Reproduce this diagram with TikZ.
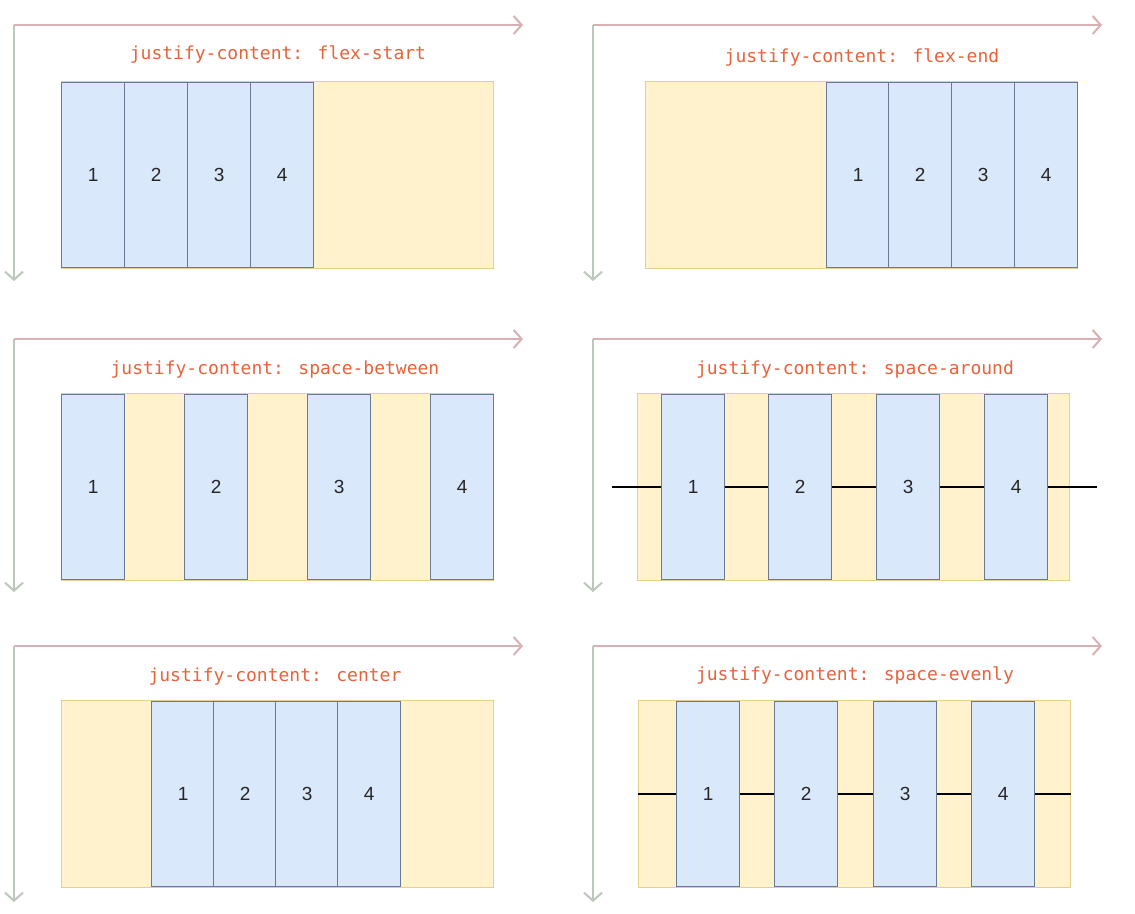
\documentclass[tikz,border=0pt]{standalone}
\usepackage{fontspec}
\setmainfont{Liberation Sans}
\newfontfamily\codefont{DejaVu Sans Mono}
\usetikzlibrary{arrows.meta}
\definecolor{itemfill}{HTML}{DAE8FC}
\definecolor{itemdraw}{HTML}{687A94}
\definecolor{contfill}{HTML}{FFF2CC}
\definecolor{contdraw}{HTML}{E3D08E}
\definecolor{titlecol}{HTML}{E8623A}
\definecolor{haxcol}{HTML}{D9B0B4}
\definecolor{vaxcol}{HTML}{BCC8BC}
\begin{document}
\begin{tikzpicture}[x=1pt,y=-1pt,
  cont/.style={draw=contdraw, fill=contfill, line width=1.2pt, minimum width=432pt, minimum height=187pt, anchor=north west, inner sep=0pt},
  itembox/.style={draw=itemdraw, fill=itemfill, line width=1.3pt, minimum width=63pt, minimum height=185pt, anchor=north west, inner sep=0pt, font=\fontsize{19}{22}\selectfont, text=black!85},
  title/.style={text=titlecol, font=\codefont\fontsize{18}{22}\selectfont, inner sep=0pt},
  haxis/.style={draw=haxcol, line width=2pt, -{Straight Barb[length=8pt,width=18pt,line width=2pt]}},
  vaxis/.style={draw=vaxcol, line width=2pt, -{Straight Barb[length=8pt,width=18pt,line width=2pt]}},
  gapline/.style={draw=black, line width=1.3pt}]
\useasboundingbox[fill=white] (0,0) rectangle (1135,913);

% ---------- axes ----------
\foreach \n/\ox/\oy/\hx/\vy in {a/14/25/523/281, b/593/25/1102/281, c/14/339/523/592, d/593/339/1102/592, e/14/646/523/902, f/593/646/1102/902}{
  \coordinate (o\n) at (\ox,\oy);
  \coordinate (h\n) at (\hx,\oy);
  \coordinate (v\n) at (\ox,\vy);
  \draw[vaxis] (o\n) -- (v\n);
  \draw[haxis] (o\n) -- (h\n);
}

% ---------- panel 1: flex-start ----------
\node[title] (t1) at (278,54) {justify-content: flex-start};
\node[cont] (c1) at (61,81) {};
\foreach \x [count=\i] in {61,124,187,250}
  \node[itembox] (p1i\i) at (\x,82) {\raisebox{-3pt}{\i}};

% ---------- panel 2: flex-end ----------
\node[title] (t2) at (862,57) {justify-content: flex-end};
\node[cont] (c2) at (645,81) {};
\foreach \x [count=\i] in {826,888,951,1014}
  \node[itembox] (p2i\i) at (\x,82) {\raisebox{-3pt}{\i}};

% ---------- panel 3: space-between ----------
\node[title] (t3) at (275,370) {justify-content: space-between};
\node[cont] (c3) at (61,393) {};
\foreach \x [count=\i] in {61,184,307,430}
  \node[itembox] (p3i\i) at (\x,394) {\raisebox{-3pt}{\i}};

% ---------- panel 4: space-around ----------
\node[title] (t4) at (855,370) {justify-content: space-around};
\node[cont] (c4) at (637,393) {};
\coordinate (l4a) at (612,487);
\coordinate (l4b) at (1097,487);
\draw[gapline] (l4a) -- (l4b);
\foreach \x [count=\i] in {661,768,876,984}
  \node[itembox] (p4i\i) at (\x,394) {\raisebox{-3pt}{\i}};

% ---------- panel 5: center ----------
\node[title] (t5) at (275,677) {justify-content: center};
\node[cont] (c5) at (61,700) {};
\foreach \x [count=\i] in {151,213,275,337}
  \node[itembox] (p5i\i) at (\x,701) {\raisebox{-3pt}{\i}};

% ---------- panel 6: space-evenly ----------
\node[title] (t6) at (855,675) {justify-content: space-evenly};
\node[cont] (c6) at (638,700) {};
\draw[gapline] (c6.west) -- (c6.east);
\foreach \x [count=\i] in {676,774,873,971}
  \node[itembox] (p6i\i) at (\x,701) {\raisebox{-3pt}{\i}};
\end{tikzpicture}
\end{document}
